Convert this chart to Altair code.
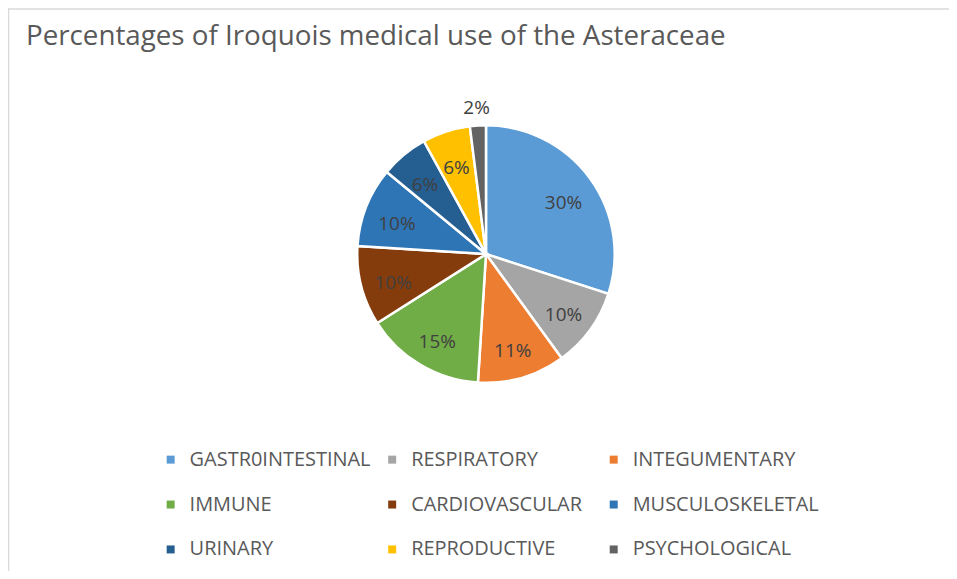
import altair as alt
import pandas as pd

categories = ["GASTR0INTESTINAL", "RESPIRATORY", "INTEGUMENTARY", "IMMUNE",
              "CARDIOVASCULAR", "MUSCULOSKELETAL", "URINARY", "REPRODUCTIVE",
              "PSYCHOLOGICAL"]
percentages = [30, 10, 11, 15, 10, 10, 6, 6, 2]
colors = ["#5B9BD5", "#A5A5A5", "#ED7D31", "#70AD47", "#843C0C",
          "#2E75B6", "#255E91", "#FFC000", "#636363"]

df = pd.DataFrame({"category": categories, "value": percentages,
                   "order": list(range(len(categories)))})

W, H = 940, 563
CX, CY = 476, 246
R = 129

base = alt.Chart(df).transform_calculate(
    inner="datum.value >= 5 ? datum.value + '%' : ''",
    outer="datum.value < 5 ? datum.value + '%' : ''",
).encode(
    theta=alt.Theta("value:Q", stack=True),
    order=alt.Order("order:Q", sort="ascending"),
)

pie = base.mark_arc(stroke="white", strokeWidth=2.5).encode(
    x=alt.value(CX), y=alt.value(CY), radius=alt.value(R),
    color=alt.Color(
        "category:N",
        scale=alt.Scale(domain=categories, range=colors),
        legend=alt.Legend(
            title=None, orient="none", legendX=150, legendY=442, columns=3,
            direction="horizontal",
            symbolType="square", symbolSize=64, symbolStrokeWidth=0,
            labelFont="Open Sans", labelFontSize=20, labelColor="#595959",
            labelOffset=9, gridAlign="all", columnPadding=6, rowPadding=25,
            labelLimit=400,
        ),
    ),
)

inner_text = base.mark_text(font="Open Sans", fontSize=19, color="#404040", dy=5).encode(
    x=alt.value(CX), y=alt.value(CY), radius=alt.value(96),
    text="inner:N",
)
outer_text = base.mark_text(font="Open Sans", fontSize=19, color="#404040", dy=3).encode(
    x=alt.value(CX), y=alt.value(CY), radius=alt.value(150),
    text="outer:N",
)

border_df = pd.DataFrame({"k": [0]})
left_border = alt.Chart(border_df).mark_rule(color="#D9D9D9", strokeWidth=1.5).encode(
    x=alt.value(-2.5), y=alt.value(0), y2=alt.value(H + 20))
top_border = alt.Chart(border_df).mark_rule(color="#D9D9D9", strokeWidth=1.5).encode(
    y=alt.value(0.5), x=alt.value(-3), x2=alt.value(W + 20))

chart = alt.layer(left_border, top_border, pie, inner_text, outer_text).properties(
    width=W, height=H,
    autosize=alt.AutoSizeParams(type="none"),
    padding={"left": 3, "top": 0, "right": 0, "bottom": 0},
    title=alt.TitleParams(
        "Percentages of Iroquois medical use of the Asteraceae",
        anchor="start", frame="group", font="Open Sans", fontSize=27.8,
        fontWeight="normal", color="#595959", dx=15, dy=65, offset=0,
        baseline="alphabetic",
    ),
).configure_view(stroke=None)

chart.save("out.html", embed_options={"renderer": "svg", "actions": False})
